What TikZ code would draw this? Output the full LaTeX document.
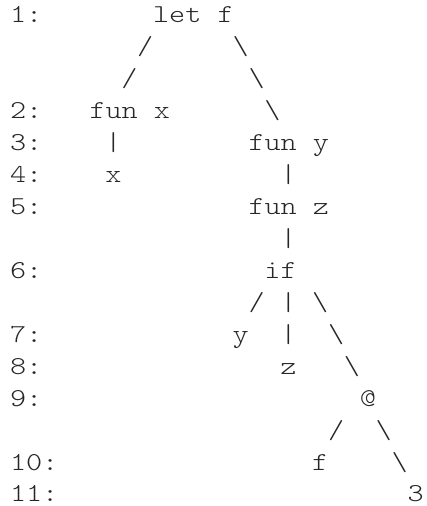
\documentclass[tikz,border=0pt]{standalone}
\usepackage{fontspec}
\newfontfamily\codefont{lmmonolt10-regular.otf}[FakeStretch=1.19]
\usetikzlibrary{positioning}

\begin{document}
\begin{tikzpicture}[
    x=7.95pt, y=-15.965pt,
    tok/.style={font=\codefont\fontsize{12.9pt}{16pt}\selectfont, text=black!85, anchor=base west, inner sep=0pt, outer sep=0pt}
]
    \useasboundingbox (-0.629,0.280) rectangle (26.164,16.127);

    % line numbers
    \foreach \n/\r in {1/1,2/4,3/5,4/6,5/7,6/9,7/11,8/12,9/13,10/15,11/16}
        \node [tok] (ln\n) at (0,\r) {\n:};

    % tree nodes
    \node [tok] (letf) at (9,1) {let f};
    \node [tok] (funx) at (5,4) {fun x};
    \node [tok] (x) at (6,6) {x};
    \node [tok] (funy) at (15,5) {fun y};
    \node [tok] (funz) at (15,7) {fun z};
    \node [tok] (if) at (16,9) {if};
    \node [tok] (y) at (14,11) {y};
    \node [tok] (z) at (17,12) {z};
    \node [tok] (app) at (22,13) {@};
    \node [tok] (f) at (19,15) {f};
    \node [tok] (three) at (25,16) {3};

    % edges, drawn as characters
    \foreach \c/\r [count=\i] in {8/2,7/3,15/10,20/14}
        \node [tok] (sl\i) at (\c,\r) {/};
    \foreach \c/\r [count=\i] in {6/5,17/6,17/8,17/10,17/11}
        \node [tok] (bar\i) at (\c,\r) {|};
    \foreach \c/\r [count=\i] in {14/2,15/3,16/4,19/10,20/11,21/12,23/14,24/15}
        \node [tok] (bs\i) at (\c,\r) {\textbackslash};
\end{tikzpicture}
\end{document}
